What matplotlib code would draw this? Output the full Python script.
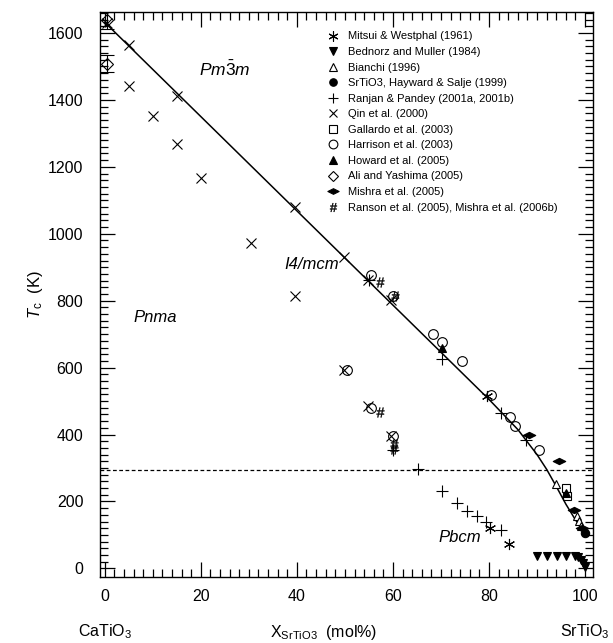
import numpy as np
import matplotlib
matplotlib.use("Agg")
import matplotlib.pyplot as plt
from matplotlib.path import Path

plt.rcParams['font.family'] = ['Liberation Sans', 'DejaVu Sans']
plt.rcParams['mathtext.fontset'] = 'custom'
plt.rcParams['mathtext.rm'] = 'Liberation Sans'
plt.rcParams['mathtext.it'] = 'Liberation Sans:italic'

# phase boundary (solid line)
bound_x = [0, 80, 86, 90, 92, 94, 96, 98, 100]
bound_y = [1632, 505, 415, 340, 296, 245, 192, 145, 105]

# room temperature (dashed line)
room_t = 295

# data series, x in mol% SrTiO3, Tc in K
mitsui_x = [79.6, 80.2, 84.2]
mitsui_y = [516, 121, 72]

bednorz_x = [90, 92.1, 94.2, 96, 98, 98.6, 99.2, 99.6, 100]
bednorz_y = [37, 37, 37, 37, 37, 33, 25, 15, 5]

bianchi_x = [94, 98.3, 98.7, 99.1]
bianchi_y = [251, 156, 141, 126]

hayward_x = [100]
hayward_y = [106]

ranjan_x = [55, 70.3, 82.4, 87.8, 65.2, 70.3, 73.3, 75.4, 77.5, 79.4, 82.4, 60.1]
ranjan_y = [861, 626, 465, 385, 298, 231, 196, 171, 156, 138, 114, 355]

qin_x = [0.5, 5, 5, 10, 15, 15, 20, 30.4, 39.6, 39.6, 49.9, 54.9, 59.6, 49.9, 54.9, 59.6]
qin_y = [1631, 1564, 1442, 1352, 1412, 1269, 1166, 972, 1081, 813, 930, 861, 801, 592, 484, 395]

gallardo_x = [96, 96.2]
gallardo_y = [241, 216]

harrison_x = [55.4, 60.1, 50.4, 55.4, 60.1, 68.3, 70.3, 74.4, 80.4, 84.4, 85.5, 90.5]
harrison_y = [877, 813, 592, 480, 397, 701, 676, 619, 519, 453, 425, 353]

howard_x = [70.3, 96]
howard_y = [659, 225]

ali_x = [0.4, 0.4]
ali_y = [1638, 1508]
ali_err = [25, 25]

mishra_x = [88.3, 94.6, 97.6, 99.3]
mishra_y = [400, 320, 176, 120]

ranson_x = [57.4, 60.4, 57.4, 60.2, 60.2]
ranson_y = [855, 813, 467, 372, 357]

# flat diamond for Mishra et al.
flat_diamond = Path([(-1, 0), (0, 0.5), (1, 0), (0, -0.5), (-1, 0)],
                    [Path.MOVETO, Path.LINETO, Path.LINETO, Path.LINETO, Path.CLOSEPOLY])

fig = plt.figure(figsize=(6.13, 6.43), dpi=100)
ax = fig.add_axes([0.163, 0.103, 0.804, 0.878])

ax.plot(bound_x, bound_y, color='black', lw=1.1, zorder=2)
ax.axhline(room_t, color='black', lw=0.9, ls=(0, (3, 2)), zorder=1)

kw = dict(ls='none', color='black', mew=0.8, zorder=3)
ax.plot(mitsui_x, mitsui_y, marker=(6, 2, 0), ms=8, label='Mitsui & Westphal (1961)', **kw)
ax.plot(bednorz_x, bednorz_y, marker='v', ms=6, label='Bednorz and Muller (1984)', **kw)
ax.plot(bianchi_x, bianchi_y, marker='^', ms=6, mfc='white', label='Bianchi (1996)', **kw)
ax.plot(hayward_x, hayward_y, marker='o', ms=6, label='SrTiO3, Hayward & Salje (1999)', **kw)
ax.plot(ranjan_x, ranjan_y, marker='+', ms=8, label='Ranjan & Pandey (2001a, 2001b)', **kw)
ax.plot(qin_x, qin_y, marker='x', ms=7, label='Qin et al. (2000)', **kw)
ax.plot(gallardo_x, gallardo_y, marker='s', ms=6, mfc='none', label='Gallardo et al. (2003)', **kw)
ax.plot(harrison_x, harrison_y, marker='o', ms=7, mfc='none', label='Harrison et al. (2003)', **kw)
ax.plot(howard_x, howard_y, marker='^', ms=6, label='Howard et al. (2005)', **kw)
ax.errorbar(ali_x, ali_y, yerr=ali_err, fmt='none', ecolor='black', elinewidth=0.8,
            capsize=5, capthick=0.8, zorder=3)
ax.plot(ali_x, ali_y, marker='D', ms=6, mfc='none', label='Ali and Yashima (2005)', **kw)
ax.plot(mishra_x, mishra_y, marker=flat_diamond, ms=9, label='Mishra et al. (2005)', **kw)
ax.plot(ranson_x, ranson_y, marker=r'$\#$', ms=7, mew=0.3, ls='none', color='black',
        zorder=3, label='Ranson et al. (2005), Mishra et al. (2006b)')

ax.set_xlim(-1, 101.6)
ax.set_ylim(-25, 1662)
ax.set_xticks(np.arange(0, 101, 20))
ax.set_xticks(np.arange(0, 101, 2), minor=True)
ax.set_yticks(np.arange(0, 1601, 200))
ax.set_yticks(np.arange(0, 1661, 20), minor=True)
ax.tick_params(which='both', direction='in', top=True, right=True, width=0.9)
ax.tick_params(which='major', length=11, labelsize=11.5)
ax.tick_params(which='minor', length=6)
ax.tick_params(axis='y', pad=12)
ax.tick_params(axis='x', pad=9)
for s in ax.spines.values():
    s.set_linewidth(1.0)

ax.set_ylabel(r'$T_{\mathrm{c}}$  (K)', fontsize=12, labelpad=2)
ax.text(0.455, -0.098, r'X$_{\mathrm{SrTiO3}}$  (mol%)', transform=ax.transAxes,
        ha='center', va='center', fontsize=11.5)
ax.text(0, -0.098, r'CaTiO$_3$', transform=ax.get_xaxis_transform(),
        ha='center', va='center', fontsize=11.5)
ax.text(100, -0.098, r'SrTiO$_3$', transform=ax.get_xaxis_transform(),
        ha='center', va='center', fontsize=11.5)

ax.text(25, 1490, r'$Pm\bar{3}m$', fontsize=12.5, ha='center', va='center')
ax.text(43, 907, 'I4/mcm', style='italic', fontsize=12, ha='center', va='center')
ax.text(10.5, 750, 'Pnma', style='italic', fontsize=12, ha='center', va='center')
ax.text(74, 92, 'Pbcm', style='italic', fontsize=12, ha='center', va='center')

ax.legend(loc='upper left', bbox_to_anchor=(0.462, 0.966), frameon=False,
          fontsize=8, handlelength=1.0, handletextpad=0.8, labelspacing=0.5,
          borderaxespad=0, borderpad=0, markerscale=0.9)

fig.savefig('out.png', dpi=100)
